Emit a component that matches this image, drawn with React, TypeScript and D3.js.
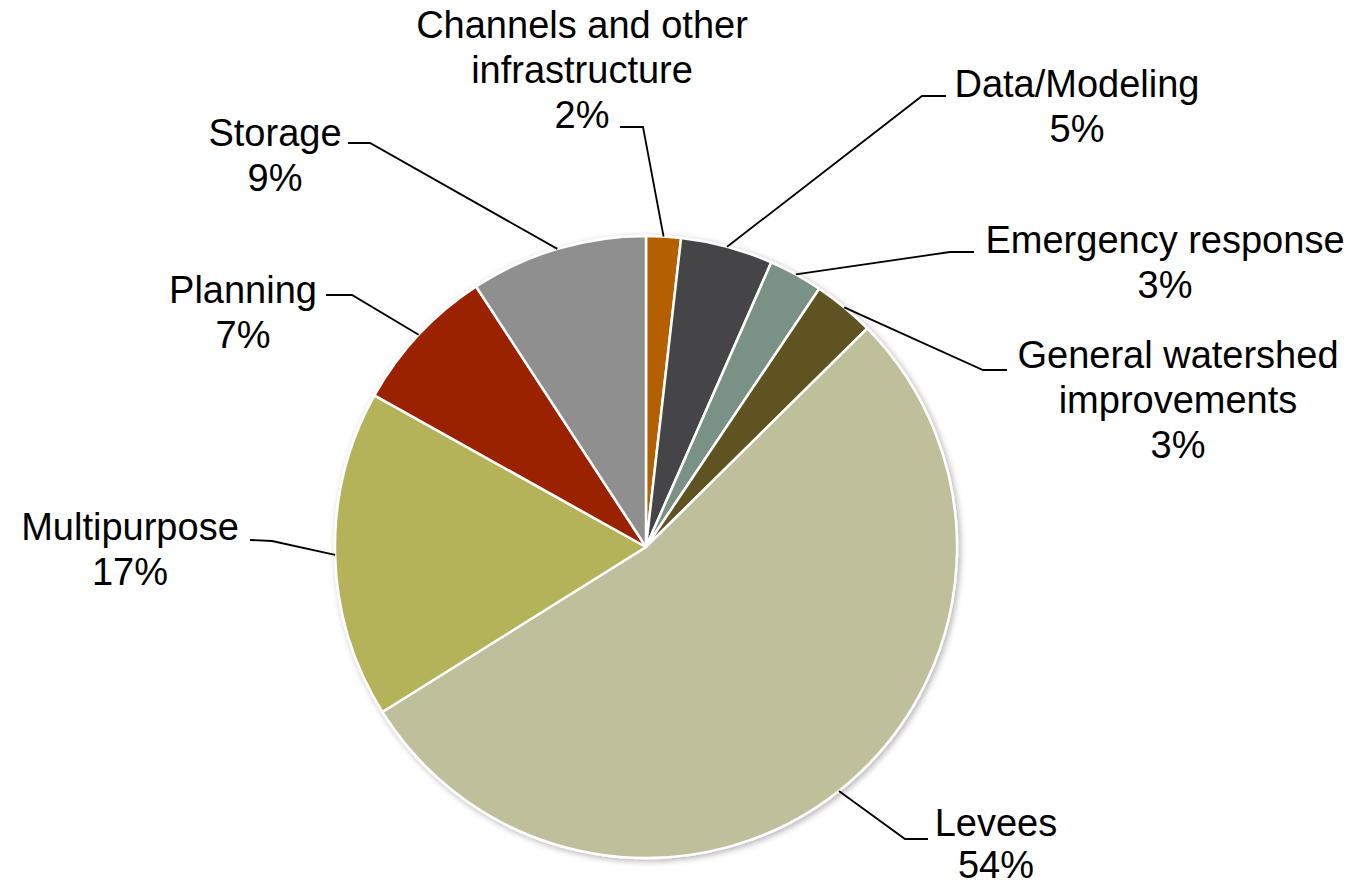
import React from "react";
import * as d3 from "d3";

const categories = [
  "Channels and other infrastructure",
  "Data/Modeling",
  "Emergency response",
  "General watershed improvements",
  "Levees",
  "Multipurpose",
  "Planning",
  "Storage",
];
const values = [1.8, 4.8, 2.8, 3.2, 53.5, 17.0, 7.7, 9.2];
const percentLabels = ["2%", "5%", "3%", "3%", "54%", "17%", "7%", "9%"];
const labelLines = [
  ["Channels and other", "infrastructure", "2%"],
  ["Data/Modeling", "5%"],
  ["Emergency response", "3%"],
  ["General watershed", "improvements", "3%"],
  ["Levees", "54%"],
  ["Multipurpose", "17%"],
  ["Planning", "7%"],
  ["Storage", "9%"],
];
const colors = ["#b56000", "#454547", "#7a9286", "#5f5220", "#bfbf9b", "#b4b35a", "#9a2300", "#8f8f8f"];

// layout of labels: text center x, first baseline y, leader elbow (x,y) and end (x,y)
const labelLayout = [
  { x: 582, y: 38, lh: 45, elbow: [643, 127], end: [620, 127] },
  { x: 1077, y: 97, lh: 45, elbow: [922, 96], end: [946, 96] },
  { x: 1165, y: 253, lh: 45, elbow: [950, 252], end: [974, 252] },
  { x: 1178, y: 368, lh: 45, elbow: [983, 370], end: [1007, 370] },
  { x: 996, y: 836, lh: 42, elbow: [905, 839], end: [928, 839] },
  { x: 130, y: 540, lh: 45, elbow: [272, 541], end: [250, 540] },
  { x: 243, y: 303, lh: 45, elbow: [352, 295], end: [326, 295] },
  { x: 275, y: 146, lh: 45, elbow: [370, 143], end: [348, 143] },
];

const W = 1365;
const H = 887;
const cx = 646;
const cy = 547;
const R = 311;
const FONT = 38;

export default function App() {
  const pie = d3.pie<number>().sort(null).value((d) => d);
  const arcs = pie(values);
  const arcGen = d3.arc<d3.PieArcDatum<number>>().innerRadius(0).outerRadius(R);

  return (
    <svg
      width={W}
      height={H}
      style={{ position: "absolute", left: 0, top: 0, display: "block", background: "#fff" }}
    >
      <defs>
        <filter id="shadow" x="-20%" y="-20%" width="140%" height="140%">
          <feDropShadow dx="2" dy="2" stdDeviation="3" floodColor="#000" floodOpacity="0.3" />
        </filter>
      </defs>
      <g transform={`translate(${cx},${cy})`}>
        <g filter="url(#shadow)">
          {arcs.map((a, i) => (
            <path key={i} d={arcGen(a) || ""} fill={colors[i]} stroke="#fff" strokeWidth={2.5} strokeLinejoin="round" />
          ))}
        </g>
      </g>
      {arcs.map((a, i) => {
        const mid = (a.startAngle + a.endAngle) / 2;
        const px = cx + R * Math.sin(mid);
        const py = cy - R * Math.cos(mid);
        const L = labelLayout[i];
        return (
          <polyline
            key={"l" + i}
            points={`${px},${py} ${L.elbow[0]},${L.elbow[1]} ${L.end[0]},${L.end[1]}`}
            fill="none"
            stroke="#000"
            strokeWidth={1.8}
          />
        );
      })}
      {labelLines.map((lines, i) => {
        const L = labelLayout[i];
        return (
          <text
            key={"t" + i}
            x={L.x}
            y={L.y}
            textAnchor="middle"
            fontFamily="'Liberation Sans', Arial, sans-serif"
            fontSize={FONT}
            fill="#000"
            aria-label={`${categories[i]} ${percentLabels[i]}`}
          >
            {lines.map((ln, j) => (
              <tspan key={j} x={L.x} y={L.y + j * L.lh}>
                {ln}
              </tspan>
            ))}
          </text>
        );
      })}
    </svg>
  );
}
